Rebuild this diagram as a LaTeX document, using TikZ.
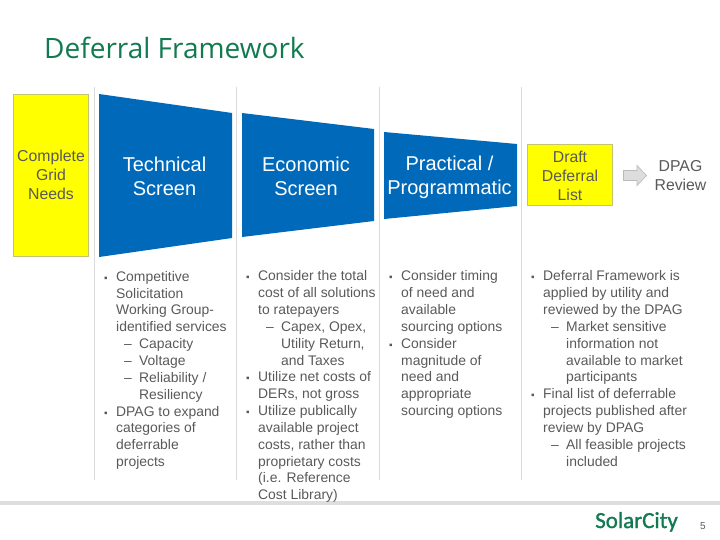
\documentclass[tikz,border=0pt]{standalone}
\usepackage{fontspec}
\setmainfont{Liberation Sans}
\newfontfamily\titlefont{Open Sans}
\newfontfamily\logofont[FakeBold=1.2]{Carlito}
\definecolor{funnel}{HTML}{0069B9}
\definecolor{sepgray}{HTML}{DADADA}
\definecolor{rulegray}{HTML}{DEDEDE}
\definecolor{bodygray}{HTML}{595959}
\definecolor{boxedge}{HTML}{C4C46E}
\definecolor{brandgreen}{HTML}{117A50}
\definecolor{pureyellow}{HTML}{FFFF00}
\definecolor{arrowfill}{HTML}{DDDDDD}
\definecolor{arrowedge}{HTML}{BBBBBB}
\newcommand{\bul}[1]{\makebox[12pt][l]{\fontsize{10}{10}\selectfont ▪}#1}
\newcommand{\subl}[1]{\hspace*{20pt}\makebox[15pt][l]{–}#1}
\newcommand{\ind}[1]{\hspace*{12pt}#1}
\newcommand{\indd}[1]{\hspace*{35pt}#1}
\tikzset{
  sep/.style={draw=sepgray,line width=1pt},
  screen/.style={fill=funnel,draw=none},
  screenlabel/.style={text=white,align=center,font=\fontsize{20}{24}\selectfont,inner sep=0pt},
  gridbox/.style={fill=pureyellow,draw=boxedge,line width=1pt,text=bodygray,align=center,font=\fontsize{15.8}{19}\selectfont,inner sep=0pt},
  bodytext/.style={anchor=north west,align=left,text=bodygray,inner sep=0pt,font=\fontsize{13.9}{16.85}\selectfont},
}
\begin{document}
\begin{tikzpicture}[x=1pt,y=-1pt]
\useasboundingbox (0,0) rectangle (720,540);
\node[anchor=base west,inner sep=0pt,text=brandgreen,font=\titlefont\fontsize{28}{30}\selectfont] (title) at (44,58.5) {Deferral Framework};
\coordinate (s1t) at (94.5,87); \coordinate (s1b) at (94.5,480);
\coordinate (s2t) at (236.5,87); \coordinate (s2b) at (236.5,480);
\coordinate (s3t) at (379.5,87); \coordinate (s3b) at (379.5,480);
\coordinate (s4t) at (521.5,87); \coordinate (s4b) at (521.5,480);
\draw[sep] (s1t) -- (s1b);
\draw[sep] (s2t) -- (s2b);
\draw[sep] (s3t) -- (s3b);
\draw[sep] (s4t) -- (s4b);
\coordinate (rl) at (0,502.5); \coordinate (rr) at (720,502.5);
\draw[rulegray,line width=4pt] (rl) -- (rr);
\node[gridbox,minimum width=75pt,minimum height=161.5pt] (need) at (51,175.5) {};
\node[align=center,text=bodygray,inner sep=0pt,font=\fontsize{15.8}{19}\selectfont] (needlabel) at (51,174.5) {Complete\\Grid\\Needs};
\fill[screen] (99,94) -- (232,113) -- (232,238) -- (99,257) -- cycle;
\fill[screen] (242,113) -- (374,129) -- (374,221) -- (242,237) -- cycle;
\fill[screen] (384,132) -- (517,144) -- (517,206) -- (384,219) -- cycle;
\node[screenlabel] (tech) at (164.5,176) {Technical\\Screen};
\node[screenlabel] (econ) at (306,176) {Economic\\Screen};
\node[screenlabel] (prac) at (449.5,177) {Practical /\\Programmatic};
\node[gridbox,minimum width=85pt,minimum height=61pt] (draft) at (570,175.5) {Draft\\Deferral\\List};
\filldraw[fill=arrowfill,draw=arrowedge,line width=0.7pt] (623.5,170.5) -- (637,170.5) -- (637,165.5) -- (646.5,175.5) -- (637,185.5) -- (637,180.5) -- (623.5,180.5) -- cycle;
\node[align=center,text=bodygray,inner sep=0pt,font=\fontsize{15.8}{19}\selectfont] (dpag) at (680.5,175.5) {DPAG\\Review};
\node[bodytext] (c1) at (104,271) {\bul{Competitive}\\\ind{Solicitation}\\\ind{Working Group-}\\\ind{identified services}\\\subl{Capacity}\\\subl{Voltage}\\\subl{Reliability /}\\\indd{Resiliency}\\\bul{DPAG to expand}\\\ind{categories of}\\\ind{deferrable}\\\ind{projects}};
\node[bodytext] (c2) at (246,270.5) {\bul{Consider the total}\\\ind{cost of all solutions}\\\ind{to ratepayers}\\\subl{Capex, Opex,}\\\indd{Utility Return,}\\\indd{and Taxes}\\\bul{Utilize net costs of}\\\ind{DERs, not gross}\\\bul{Utilize publically}\\\ind{available project}\\\ind{costs, rather than}\\\ind{proprietary costs}\\\ind{(i.e. Reference}\\\ind{Cost Library)}};
\node[bodytext] (c3) at (389,270.5) {\bul{Consider timing}\\\ind{of need and}\\\ind{available}\\\ind{sourcing options}\\\bul{Consider}\\\ind{magnitude of}\\\ind{need and}\\\ind{appropriate}\\\ind{sourcing options}};
\node[bodytext] (c4) at (531,270.5) {\bul{Deferral Framework is}\\\ind{applied by utility and}\\\ind{reviewed by the DPAG}\\\subl{Market sensitive}\\\indd{information not}\\\indd{available to market}\\\indd{participants}\\\bul{Final list of deferrable}\\\ind{projects published after}\\\ind{review by DPAG}\\\subl{All feasible projects}\\\indd{included}};
\node[anchor=base west,inner sep=0pt,text=brandgreen,font=\logofont\fontsize{23}{24}\selectfont] (logo) at (595,528) {SolarCity};
\node[anchor=base,inner sep=0pt,text=bodygray,font=\fontsize{10}{11}\selectfont] (page) at (703,529) {5};
\end{tikzpicture}
\end{document}
